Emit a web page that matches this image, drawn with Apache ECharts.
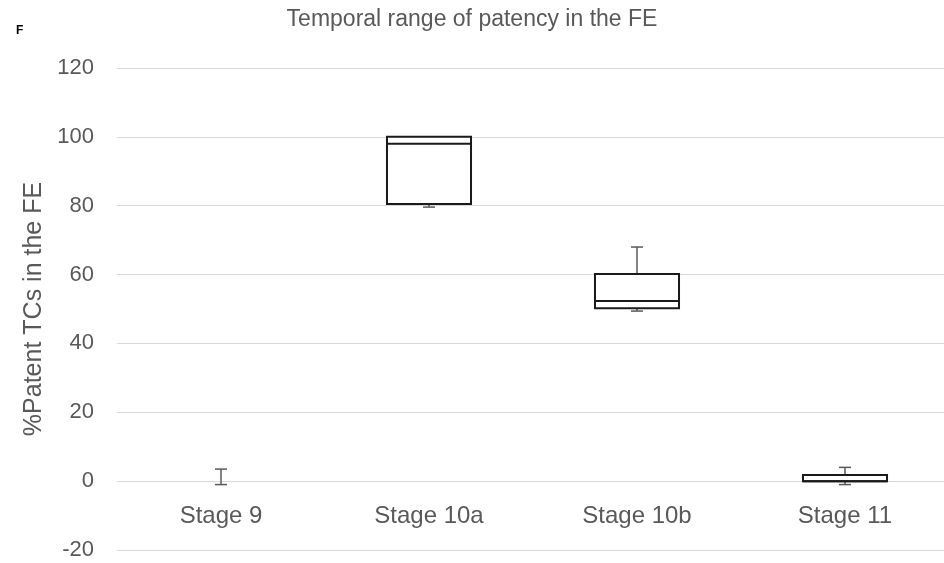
<!DOCTYPE html>
<html>
<head>
<meta charset="utf-8">
<script src="https://cdn.jsdelivr.net/npm/echarts@6/dist/echarts.min.js"></script>
<style>html,body{margin:0;padding:0;background:#fff;overflow:hidden;}#c{width:944px;height:563px;}</style>
</head>
<body>
<div id="c"></div>
<script>
var categories = ['Stage 9', 'Stage 10a', 'Stage 10b', 'Stage 11'];
var whiskerLow = [-1, 79.6, 49.4, -1];
var q1Values = [0, 80.5, 50.2, 0];
var medianValues = [0, 98, 52.3, 0];
var q3Values = [0, 100, 60.2, 1.8];
var whiskerHigh = [3.5, 100, 68, 4];
var yTicks = [-20, 0, 20, 40, 60, 80, 100, 120];

var data = categories.map(function (c, i) {
  return [i, whiskerLow[i], q1Values[i], medianValues[i], q3Values[i], whiskerHigh[i]];
});

var chart = echarts.init(document.getElementById('c'), null, {renderer: 'canvas'});
chart.setOption({
  backgroundColor: '#fff',
  animation: false,
  title: [{
    text: 'Temporal range of patency in the FE',
    left: 'center',
    top: 3,
    textStyle: {fontFamily: 'Liberation Sans', fontSize: 23, fontWeight: 'normal', color: '#595959'}
  }, {
    text: 'F',
    left: 11,
    top: 20,
    textStyle: {fontFamily: 'Liberation Sans', fontSize: 12, fontWeight: 'bold', color: '#000'}
  }],
  grid: {left: 117, top: 68, width: 832, height: 482, containLabel: false, outerBoundsMode: 'none'},
  xAxis: {
    type: 'category',
    data: categories,
    position: 'bottom',
    axisLine: {show: false, onZero: false},
    axisTick: {show: false},
    axisLabel: {fontFamily: 'Liberation Sans', fontSize: 24, color: '#595959', margin: -46}
  },
  yAxis: {
    type: 'value',
    min: -20,
    max: 120,
    interval: 20,
    name: '%Patent TCs in the FE',
    nameLocation: 'middle',
    nameGap: 70,
    nameTextStyle: {fontFamily: 'Liberation Sans', fontSize: 25, color: '#595959'},
    axisLine: {show: false},
    axisTick: {show: false},
    splitLine: {lineStyle: {color: '#d9d9d9', width: 1}},
    axisLabel: {
      fontFamily: 'Liberation Sans', fontSize: 22, color: '#595959', margin: 23,
      formatter: function (v) { return yTicks.indexOf(v) >= 0 ? String(v) : ''; }
    }
  },
  series: [{
    type: 'custom',
    data: data,
    z: 5,
    renderItem: function (params, api) {
      var x = api.value(0);
      var pLow = api.coord([x, api.value(1)]);
      var pQ1 = api.coord([x, api.value(2)]);
      var pMed = api.coord([x, api.value(3)]);
      var pQ3 = api.coord([x, api.value(4)]);
      var pHigh = api.coord([x, api.value(5)]);
      var bw = api.size([1, 0])[0] * 0.404;
      var cx = pQ1[0];
      var capW = 12;
      var wStyle = {stroke: '#595959', lineWidth: 1.5};
      var children = [
        {type: 'line', shape: {x1: cx, y1: pQ3[1], x2: cx, y2: pHigh[1]}, style: wStyle},
        {type: 'line', shape: {x1: cx, y1: pQ1[1], x2: cx, y2: pLow[1]}, style: wStyle},
        {type: 'line', shape: {x1: cx - capW / 2, y1: pHigh[1], x2: cx + capW / 2, y2: pHigh[1]}, style: wStyle},
        {type: 'line', shape: {x1: cx - capW / 2, y1: pLow[1], x2: cx + capW / 2, y2: pLow[1]}, style: wStyle}
      ];
      if (Math.abs(pQ1[1] - pQ3[1]) > 0.5) {
        children.push({type: 'rect', shape: {x: cx - bw / 2, y: pQ3[1], width: bw, height: pQ1[1] - pQ3[1]},
          style: {fill: '#fff', stroke: '#1a1a1a', lineWidth: 2}});
        children.push({type: 'line', shape: {x1: cx - bw / 2, y1: pMed[1], x2: cx + bw / 2, y2: pMed[1]},
          style: {stroke: '#1a1a1a', lineWidth: 2}});
      }
      return {type: 'group', children: children};
    }
  }]
});
</script>
</body>
</html>
